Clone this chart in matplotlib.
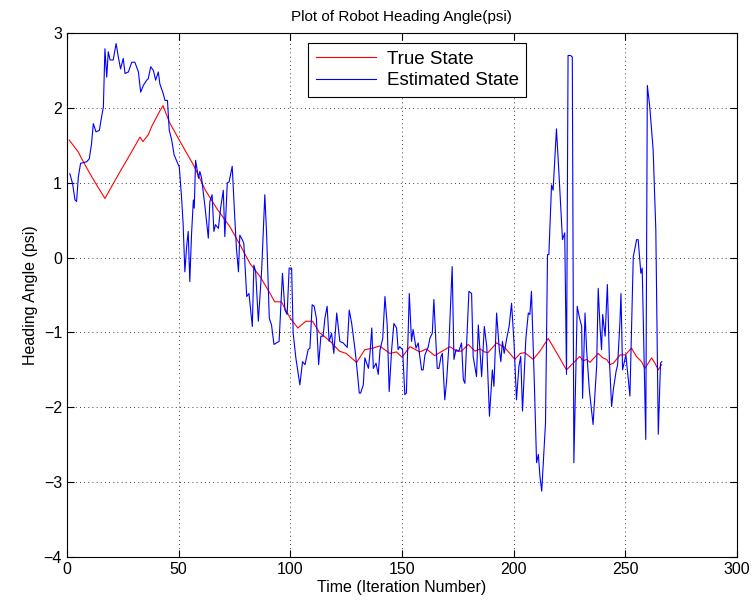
import numpy as np
import matplotlib
matplotlib.use("Agg")
import matplotlib.pyplot as plt

plt.rcParams['font.family'] = ['Liberation Sans', 'DejaVu Sans']

# True heading
true_t = [1, 5.1, 6.6, 10.3, 13.3, 17, 20, 24.2, 28.5, 32.7, 34, 36.4, 37.9, 41.6, 43,
          46, 52, 56.6, 62, 67, 73, 77.5, 82, 86.4, 91, 93, 96, 100, 103.4, 107, 110,
          113, 118, 122, 125, 129.7, 133.4, 137, 140, 144.6, 147.6, 150, 153.6, 158,
          161, 164.7, 168, 171.5, 174.5, 176.7, 179.7, 182.7, 185, 187, 188.5, 192.4,
          196, 200.6, 203, 205, 208.8, 211.8, 215.5, 218.5, 223.7, 226.7, 229.6, 231.2,
          232.7, 234.2, 237.9, 240, 241.7, 243.2, 244.7, 247.7, 250, 252.8, 255, 257.3,
          258.8, 261.8, 263.3, 264.8, 266.3]
true_psi = [1.57, 1.41, 1.32, 1.12, 0.97, 0.79, 0.95, 1.17, 1.39, 1.61, 1.55, 1.64, 1.75,
            1.96, 2.03, 1.8, 1.48, 1.24, 0.9, 0.66, 0.41, 0.17, -0.08, -0.25, -0.48, -0.59,
            -0.59, -0.81, -0.94, -0.85, -0.85, -1.0, -1.12, -1.25, -1.28, -1.4, -1.23,
            -1.21, -1.18, -1.28, -1.26, -1.33, -1.19, -1.26, -1.22, -1.31, -1.25, -1.19,
            -1.25, -1.25, -1.16, -1.25, -1.22, -1.26, -1.27, -1.14, -1.2, -1.36, -1.28,
            -1.27, -1.36, -1.25, -1.08, -1.23, -1.5, -1.41, -1.32, -1.38, -1.36, -1.4,
            -1.28, -1.34, -1.36, -1.43, -1.41, -1.3, -1.3, -1.21, -1.32, -1.39, -1.48,
            -1.34, -1.41, -1.5, -1.43]

# Estimated heading
est_t = [1.3, 2.5, 3.6, 4.3, 5.1, 6.1, 8.8, 10, 11, 11.8, 13, 14.5, 15.5, 16.3, 17, 17.8,
         18.5, 19.3, 20.7, 22, 23, 24, 25.2, 26, 27.5, 29, 30.4, 32, 33, 34.2, 35.7, 36.4,
         37.5, 38.7, 39.7, 40.9, 41.6, 43.1, 43.9, 45, 45.8, 46.9, 48, 49, 50.3, 51.3, 52,
         52.8, 53.6, 54.3, 55, 55.8, 56.6, 57, 57.6, 58.3, 58.9, 59.5, 60.3, 61.8, 63.3,
         64, 65, 65.8, 66.5, 67.8, 68.8, 70, 70.7, 71.8, 72.6, 74, 75.2, 75.9, 76.8, 77.4,
         78.5, 79.2, 80.5, 81.5, 83, 83.7, 84.5, 85.7, 87.2, 88.6, 89.4, 90.6, 91.6, 92.7,
         93.8, 95, 96.5, 97.6, 98.6, 99.5, 100.6, 101.3, 102.5, 104.3, 105.5, 106.6, 108,
         108.8, 109.8, 110.7, 111.7, 112.7, 113.7, 114.7, 115.5, 116.5, 117.4, 118.5,
         119.5, 120.8, 122.2, 123.7, 125.5, 126.4, 127.5, 129, 130, 130.9, 131.5, 132.7,
         133.4, 135, 135.7, 136.5, 137.2, 138.4, 139.4, 140.2, 141.4, 142.4, 143.4, 144.3,
         145.4, 146.4, 147.6, 148.3, 149, 150.3, 151.3, 152, 153.3, 154.3, 155, 156.3,
         157.3, 158, 158.8, 159.5, 160.3, 161.8, 162.5, 163.6, 164.3, 165.8, 166.6, 167.5,
         168.1, 169.2, 170, 171, 172.5, 173.3, 174.2, 175.5, 176.7, 177.5, 178.2, 180,
         181.2, 181.9, 183.4, 184.2, 185.7, 186.9, 188, 189.2, 190.5, 191.2, 192.4, 193.6,
         194.3, 195, 195.8, 196.8, 198, 199.1, 200.2, 201.3, 202.4, 203.2, 204, 205.5,
         206.6, 207.3, 208, 209.3, 210.3, 211.1, 211.8, 212.6, 214.3, 215.2, 215.8, 217,
         217.7, 219.2, 220.4, 221.9, 222.9, 223.7, 224.4, 225.5, 226.3, 227, 228.5, 229.4,
         230.5, 230.9, 232, 232.7, 233.9, 235.6, 237.2, 237.9, 238.7, 239.4, 239.9, 241,
         242, 242.9, 243.9, 244.7, 245.9, 246.6, 247.6, 248.1, 248.8, 250.3, 252.1, 253.6,
         255.1, 255.8, 257, 257.6, 259.2, 259.9, 261, 262.5, 263.7, 264.8, 265.8, 266.4]
est_psi = [1.12, 0.99, 0.77, 0.75, 1.08, 1.26, 1.28, 1.32, 1.52, 1.79, 1.68, 1.7, 1.88,
           2.01, 2.79, 2.41, 2.75, 2.64, 2.64, 2.86, 2.68, 2.52, 2.66, 2.46, 2.48, 2.61,
           2.61, 2.48, 2.21, 2.3, 2.37, 2.39, 2.55, 2.5, 2.37, 2.48, 2.32, 2.19, 2.1, 2.1,
           1.7, 1.57, 1.37, 1.3, 1.21, 0.81, 0.46, -0.19, 0.15, 0.35, -0.32, 0.32, 0.77,
           0.66, 1.3, 1.17, 1.06, 1.15, 1.06, 0.68, 0.26, 0.75, 0.84, 0.35, 0.44, 0.39,
           0.66, 0.9, 0.28, 1.0, 1.01, 1.22, 0.5, 0.12, -0.19, 0.3, 0.24, 0.19, -0.52,
           -0.48, -0.92, -0.1, -0.19, -0.85, -0.16, 0.84, 0.32, -0.81, -0.9, -1.16, -1.14,
           -1.12, -0.21, -0.7, -0.76, -0.14, -0.14, -1.01, -1.34, -1.7, -1.39, -1.43,
           -1.23, -1.21, -0.63, -0.65, -0.81, -1.43, -1.05, -1.05, -0.81, -0.65, -1.12,
           -1.01, -1.28, -0.74, -1.12, -1.14, -1.2, -0.7, -0.88, -1.23, -1.52, -1.81,
           -1.81, -1.7, -1.34, -1.48, -1.28, -0.94, -1.48, -1.41, -1.56, -1.23, -1.08,
           -0.52, -0.9, -1.79, -1.23, -0.88, -0.94, -1.23, -1.19, -1.23, -1.83, -1.81,
           -0.48, -1.12, -0.96, -1.21, -1.14, -1.32, -1.5, -1.5, -1.3, -1.19, -1.08,
           -1.01, -0.56, -1.48, -1.48, -1.32, -1.28, -1.9, -1.65, -1.19, -0.12, -1.36,
           -1.23, -1.25, -1.14, -1.63, -1.68, -0.45, -0.48, -1.32, -1.59, -0.9, -1.59,
           -0.92, -1.19, -2.12, -1.5, -1.72, -0.74, -1.23, -1.39, -1.12, -1.28, -1.1,
           -0.92, -0.61, -1.14, -1.9, -1.45, -1.32, -2.05, -1.08, -0.74, -0.76, -0.45,
           -1.68, -2.74, -2.63, -2.92, -3.12, -2.21, 0.04, 0.04, 0.97, 0.9, 1.72, 1.08,
           0.24, 0.33, -1.56, 2.7, 2.7, 2.68, -2.74, -0.65, -0.79, -0.92, -1.88, -0.74,
           -1.23, -1.76, -2.23, -1.45, -0.41, -0.92, -1.23, -0.76, -1.05, -0.36, -1.36,
           -1.99, -1.76, -1.52, -1.43, -0.88, -0.48, -1.5, -1.3, -1.85, 0.01, 0.24, 0.24,
           -0.21, -0.14, -2.43, 2.3, 2.01, 1.44, 0.37, -2.36, -1.41, -1.39]

fig = plt.figure(figsize=(7.55, 6.14), dpi=100)
ax = fig.add_axes([0.0887, 0.0928, 0.8873, 0.8534])

ax.plot(true_t, true_psi, color='red', linewidth=0.8, label='True State')
ax.plot(est_t, est_psi, color='blue', linewidth=0.8, label='Estimated State')

ax.set_xlim(0, 300)
ax.set_ylim(-4, 3)
ax.set_xticks(np.arange(0, 301, 50))
ax.set_yticks(np.arange(-4, 4, 1))
ax.tick_params(direction='in', top=True, right=True, labelsize=11.5, length=5)
ax.grid(True, color='black', linestyle=(0, (1, 4)), linewidth=0.6)
for s in ax.spines.values():
    s.set_linewidth(0.8)

ax.set_title('Plot of Robot Heading Angle(psi)', fontsize=11, pad=9)
ax.set_xlabel('Time (Iteration Number)', fontsize=11.5, labelpad=2)
ax.set_ylabel('Heading Angle (psi)', fontsize=11.5, labelpad=4)

leg = ax.legend(loc='upper left', bbox_to_anchor=(0.36, 0.981), fontsize=13.5,
                fancybox=False, framealpha=1, edgecolor='black', handlelength=3.2,
                handletextpad=0.6, borderpad=0.4, labelspacing=0.25, borderaxespad=0)
leg.get_frame().set_linewidth(0.8)

fig.savefig('out.png', dpi=100)
